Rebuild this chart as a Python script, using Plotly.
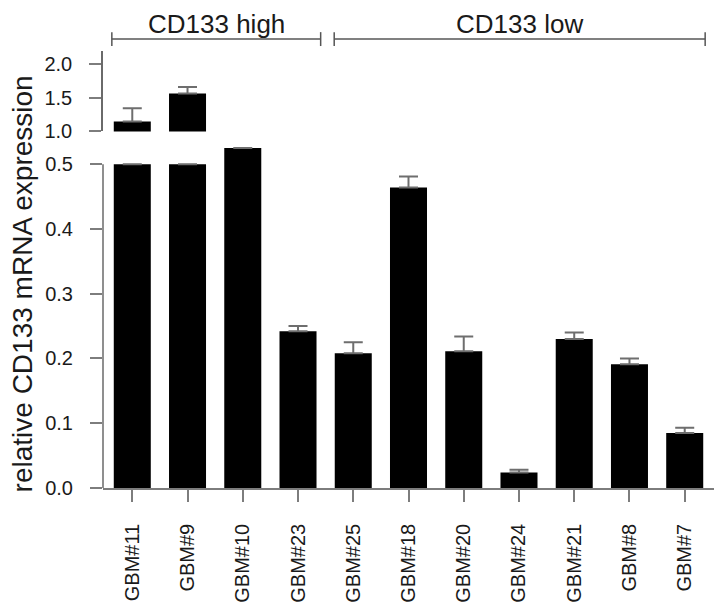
import plotly.graph_objects as go

# Sample names and measured expression (relative CD133 mRNA)
samples = ["GBM#11", "GBM#9", "GBM#10", "GBM#23", "GBM#25", "GBM#18",
           "GBM#20", "GBM#24", "GBM#21", "GBM#8", "GBM#7"]
expression = [1.147, 1.56, 0.525, 0.242, 0.208, 0.464, 0.211, 0.024, 0.230, 0.191, 0.085]
sem = [0.196, 0.097, None, 0.008, 0.017, 0.017, 0.023, 0.004, 0.010, 0.009, 0.008]

groups = ["CD133 high", "CD133 low"]
lower_ticks = [0.0, 0.1, 0.2, 0.3, 0.4, 0.5]
upper_ticks = [1.0, 1.5, 2.0]

# broken axis: lower segment [0, 0.5], upper segment starts at 1.0
BREAK_LOW, BREAK_HIGH = 0.5, 1.0

FONT = "Arial, Liberation Sans, Helvetica, sans-serif"
AXIS = "#6a6a6a"
TICK = "#7d7d7d"
TEXT = "#1a1a1a"

xs = list(range(len(samples)))
lower_vals = [v if v < BREAK_HIGH else BREAK_LOW for v in expression]
lower_err = [e if v < BREAK_HIGH else None for v, e in zip(expression, sem)]
upper_err = [e if v >= BREAK_HIGH else None for v, e in zip(expression, sem)]

fig = go.Figure()

err_style = dict(type="data", symmetric=False, color="#6e6e6e", thickness=2, width=9.5)

fig.add_trace(go.Bar(
    x=xs, y=lower_vals, width=0.67, marker=dict(color="black", line=dict(width=0)),
    error_y=dict(array=lower_err, arrayminus=[0] * len(xs), **err_style),
    xaxis="x", yaxis="y", showlegend=False, hoverinfo="skip"))

fig.add_trace(go.Bar(
    x=xs, y=expression, width=0.67, marker=dict(color="black", line=dict(width=0)),
    error_y=dict(array=upper_err, arrayminus=[0] * len(xs), **err_style),
    xaxis="x2", yaxis="y2", showlegend=False, hoverinfo="skip"))

W, H = 714, 603
M_L, M_R, M_T, M_B = 103, 0, 51, 112
plot_h = H - M_T - M_B

lower_top = 0.54
upper_top = 2.186

fig.update_layout(
    width=W, height=H,
    margin=dict(l=M_L, r=M_R, t=M_T, b=M_B),
    paper_bgcolor="white", plot_bgcolor="white",
    font=dict(family=FONT, color=TEXT, size=20),
    xaxis=dict(
        domain=[0, 1], anchor="y", range=[-0.53, 10.53],
        tickmode="array", tickvals=xs, ticktext=samples, tickangle=-90,
        ticks="outside", ticklen=12, tickwidth=1.5, tickcolor=TICK,
        showline=True, linecolor=TICK, linewidth=1.5,
        showgrid=False, zeroline=False, ticklabelstandoff=14,
        tickfont=dict(size=20, color=TEXT)),
    xaxis2=dict(
        domain=[0, 1], anchor="y2", matches="x", visible=False),
    yaxis=dict(
        domain=[0, lower_top * 652 / plot_h], anchor="x", range=[0, lower_top],
        tickmode="array", tickvals=lower_ticks,
        ticktext=[f"{t:.1f}" for t in lower_ticks],
        ticks="outside", ticklen=12, tickwidth=1.5, tickcolor=TICK,
        showline=False, showgrid=False, zeroline=False, ticklabelstandoff=13,
        tickfont=dict(size=20, color=TEXT)),
    yaxis2=dict(
        domain=[(H - M_B - 132) / plot_h, 1], anchor="x2",
        range=[1.0, upper_top],
        tickmode="array", tickvals=upper_ticks,
        ticktext=[f"{t:.1f}" for t in upper_ticks],
        ticks="outside", ticklen=12, tickwidth=1.5, tickcolor=TICK,
        showline=True, linecolor=AXIS, linewidth=1.5,
        showgrid=False, zeroline=False, ticklabelstandoff=13,
        tickfont=dict(size=20, color=TEXT)),
)

# lower y-axis line stops at the break
fig.add_shape(type="line", xref="paper", yref="y", x0=0, x1=0, y0=0, y1=BREAK_LOW,
              line=dict(color=AXIS, width=1.5), layer="above")

# group brackets above the bars
def py(px):
    return (H - M_B - px) / plot_h

brackets = [(-0.37, 3.41), (3.655, 10.37)]
for (x0, x1), label in zip(brackets, groups):
    fig.add_shape(type="line", xref="x", yref="paper", x0=x0, x1=x1, y0=py(39), y1=py(39),
                  line=dict(color="#808080", width=2))
    for xe in (x0, x1):
        fig.add_shape(type="line", xref="x", yref="paper", x0=xe, x1=xe,
                      y0=py(32), y1=py(46), line=dict(color="#555555", width=1.5))
    fig.add_annotation(x=(x0 + x1) / 2, y=py(24), xref="x", yref="paper",
                       text=label, showarrow=False, xanchor="center", yanchor="middle",
                       font=dict(size=26, color=TEXT))

# shared y-axis title spanning both segments
fig.add_annotation(x=(22 - M_L) / (W - M_L - M_R), y=py(286), xref="paper", yref="paper",
                   text="relative CD133 mRNA expression", textangle=-90, showarrow=False,
                   xanchor="center", yanchor="middle", font=dict(size=28, color=TEXT))

fig.write_html("out.html")
